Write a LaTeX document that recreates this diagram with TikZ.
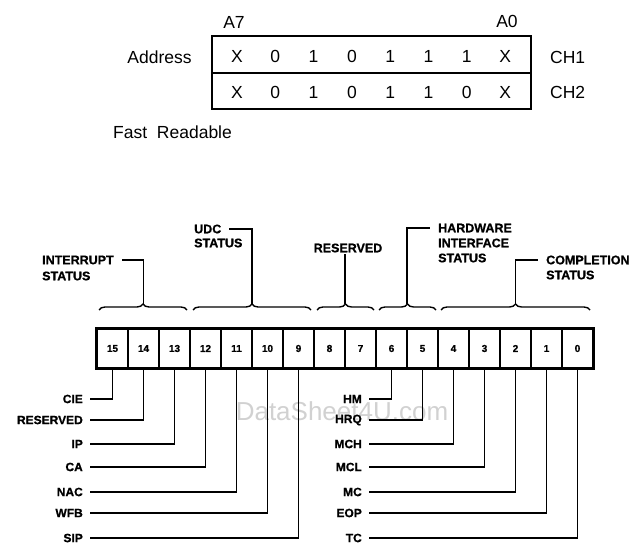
\documentclass[tikz,border=0pt]{standalone}
\usepackage{fontspec}
\setmainfont{Liberation Sans}
\newfontfamily\heavyfont[FakeBold=0.9]{Liberation Sans Bold}
\usetikzlibrary{decorations.pathreplacing}
\begin{document}
\begin{tikzpicture}[x=1bp,y=-1bp,
  toptxt/.style={inner sep=0pt, font=\fontsize{17.5bp}{20bp}\selectfont},
  bitcell/.style={draw, line width=1.8bp, minimum width=31bp, minimum height=39bp, inner sep=0pt, font=\heavyfont\fontsize{10bp}{11bp}\selectfont},
  hdr/.style={inner xsep=8bp, inner ysep=1bp, font=\heavyfont\fontsize{12.5bp}{14bp}\selectfont},
  bitlbl/.style={inner xsep=7bp, inner ysep=1bp, font=\heavyfont\fontsize{12bp}{14bp}\selectfont},
  leader/.style={line width=1.3bp},
  grpbrace/.style={decorate, decoration={brace, amplitude=6bp}, line width=1.4bp},
  tablerule/.style={line width=1.3bp},
]
\useasboundingbox (0,0) rectangle (636,549);

% watermark
\node[inner sep=0pt, text=black!18, font=\fontsize{26bp}{28bp}\selectfont] (wm) at (342,411) {DataSheet4U.com};

% ---------- top address table ----------
\node[toptxt] (a7) at (234,22) {A7};
\node[toptxt] (a0) at (507,21) {A0};
\node[toptxt] (addr) at (159.5,57) {Address};
\node[toptxt, anchor=west] (ch1) at (550,57) {CH1};
\node[toptxt, anchor=west] (ch2) at (550,92) {CH2};
\node[toptxt, anchor=west] (fast) at (113,132) {Fast\ \ Readable};

\draw[tablerule] (212,36) rectangle (531,109);
\draw[tablerule] (212,73) -- (531,73);
\draw[line width=2.4bp] (212,36) -- (531,36);

\foreach \d [count=\i from 0] in {X,0,1,0,1,1,1,X}
  \node[toptxt] (ra\i) at ({237+38.3*\i},56) {\d};
\foreach \d [count=\i from 0] in {X,0,1,0,1,1,0,X}
  \node[toptxt] (rb\i) at ({237+38.3*\i},92) {\d};

% ---------- status register ----------
\foreach \b in {15,...,0}
  \node[bitcell] (c\b) at ({112.5+31*(15-\b)},348.5) {\b};
\draw[line width=2.8bp] (c15.north west) rectangle (c0.south east);

% braces
\draw[grpbrace] (99,310) -- (187,310);
\draw[grpbrace] (193,310) -- (311,310);
\draw[grpbrace] (317,310) -- (374,310);
\draw[grpbrace] (379,310) -- (436,310);
\draw[grpbrace] (441,310) -- (590,310);
\coordinate (bint) at (143.5,304);
\coordinate (budc) at (252,304);
\coordinate (bres) at (345,304);
\coordinate (bhw) at (407,304);
\coordinate (bcomp) at (515.5,304);

% group headers
\node[hdr, anchor=west] (int1) at (34,260) {INTERRUPT};
\node[hdr, anchor=west] (int2) at (34,276) {STATUS};
\node[hdr, anchor=west] (udc1) at (186,229) {UDC};
\node[hdr, anchor=west] (udc2) at (186,243) {STATUS};
\node[hdr] (res) at (348,248) {RESERVED};
\node[hdr, anchor=west] (hw1) at (430,228) {HARDWARE};
\node[hdr, anchor=west] (hw2) at (430,243) {INTERFACE};
\node[hdr, anchor=west] (hw3) at (430,258) {STATUS};
\node[hdr, anchor=west] (comp1) at (538,260) {COMPLETION};
\node[hdr, anchor=west] (comp2) at (538,275) {STATUS};

\draw[leader] (bint) |- (int1.east);
\draw[leader] (budc) |- (udc1.east);
\draw[leader] (bres) -- (bres |- res.south);
\draw[leader] (bhw) |- (hw1.west);
\draw[leader] (bcomp) |- (comp1.west);

% bit labels, left
\foreach \b/\t/\y in {15/CIE/399, 14/RESERVED/420, 13/IP/444, 12/CA/467, 11/NAC/492, 10/WFB/513, 9/SIP/538}{
  \node[bitlbl, anchor=east] (l\b) at (90,\y) {\t};
  \draw[leader] (c\b.south) |- (l\b.east);
}
% bit labels, right
\foreach \b/\t/\y in {6/HM/399, 5/HRQ/420, 4/MCH/444, 3/MCL/467, 2/MC/492, 1/EOP/513, 0/TC/538}{
  \node[bitlbl, anchor=east] (l\b) at (369,\y) {\t};
  \draw[leader] (c\b.south) |- (l\b.east);
}
\end{tikzpicture}
\end{document}
